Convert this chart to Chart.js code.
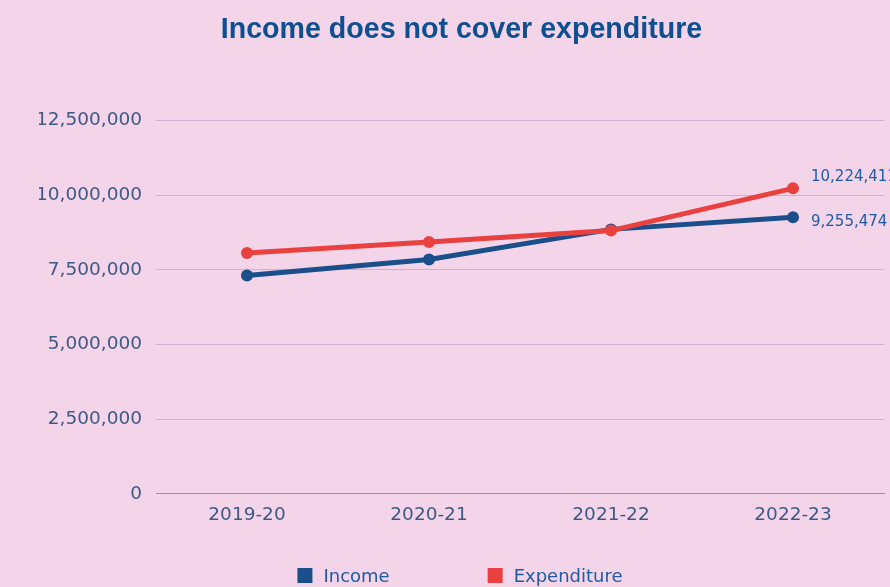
<!DOCTYPE html>
<html>
<head>
<meta charset="utf-8">
<script src="https://cdn.jsdelivr.net/npm/chart.js@4.4.0/dist/chart.umd.min.js"></script>
<style>
    html, body { margin: 0; padding: 0; background: #f3d4e8; overflow: hidden; }
    #caixa { position: relative; width: 920px; height: 600px; }
</style>
</head>
<body>
<div id="caixa"><canvas id="grafico"></canvas></div>
<script>
const anos = ['2019-20', '2020-21', '2021-22', '2022-23'];
const receitas = [7310000, 7840000, 8850000, 9255474];
const despesas = [8060000, 8430000, 8810000, 10224411];
const nomesSeries = ['Income', 'Expenditure'];
const ticksY = [0, 2500000, 5000000, 7500000, 10000000, 12500000];

const AZUL = '#1b4f8b';
const VERMELHO = '#e8413f';
const TEXTO = '#3d5a86';
const FONTE = "'DejaVu Sans', sans-serif";

// rotulos com o valor do ultimo ponto de cada serie
const rotulosFinais = {
    id: 'rotulosFinais',
    afterDatasetsDraw(chart) {
        const ctx = chart.ctx;
        ctx.save();
        ctx.font = `15px ${FONTE}`;
        ctx.fillStyle = '#1f5ca3';
        ctx.textAlign = 'left';
        ctx.textBaseline = 'middle';
        chart.data.datasets.forEach((ds, i) => {
            const meta = chart.getDatasetMeta(i);
            const ultimo = meta.data[meta.data.length - 1];
            const valor = ds.data[ds.data.length - 1];
            const desloc = i === 1 ? -11 : 5;
            ctx.fillText(valor.toLocaleString('en-US'), ultimo.x + 18, ultimo.y + desloc);
        });
        ctx.restore();
    }
};

// legenda propria, espaco largo entre os itens
const legendaPropria = {
    id: 'legendaPropria',
    afterDraw(chart) {
        const ctx = chart.ctx;
        ctx.save();
        ctx.font = `18px ${FONTE}`;
        ctx.textBaseline = 'middle';
        const caixa = 15, folga = 11, entre = 98;
        const larguras = chart.data.datasets.map(ds => caixa + folga + ctx.measureText(ds.label).width);
        const total = larguras.reduce((a, b) => a + b, 0) + entre * (larguras.length - 1);
        let x = chart.width / 2 - total / 2;
        const y = 576;
        chart.data.datasets.forEach((ds, i) => {
            ctx.fillStyle = ds.borderColor;
            ctx.fillRect(x, y - 8, caixa, caixa);
            ctx.fillStyle = '#1f5ca3';
            ctx.fillText(ds.label, x + caixa + folga, y + 1);
            x += larguras[i] + entre;
        });
        ctx.restore();
    }
};

new Chart(document.getElementById('grafico'), {
    type: 'line',
    data: {
        labels: anos,
        datasets: [
            {
                label: nomesSeries[0], data: receitas, order: 2,
                borderColor: AZUL, backgroundColor: AZUL,
                borderWidth: 5, pointRadius: 6, pointBorderWidth: 0, pointHoverRadius: 6, tension: 0
            },
            {
                label: nomesSeries[1], data: despesas, order: 1,
                borderColor: VERMELHO, backgroundColor: VERMELHO,
                borderWidth: 5, pointRadius: 6, pointBorderWidth: 0, pointHoverRadius: 6, tension: 0
            }
        ]
    },
    options: {
        responsive: true,
        maintainAspectRatio: false,
        animation: false,
        layout: { padding: { left: 39, right: 36, top: 0, bottom: 64 } },
        plugins: {
            legend: { display: false },
            tooltip: { enabled: false },
            title: {
                display: true,
                text: 'Income does not cover expenditure',
                color: '#0d4f8f',
                font: { family: "'Liberation Sans', Arial, sans-serif", size: 28.6, weight: 'bold' },
                padding: { top: 13, bottom: 73 }
            }
        },
        scales: {
            x: {
                offset: true,
                grid: { display: false, drawTicks: false },
                border: { display: true, color: '#8a96ad', width: 1 },
                ticks: { color: TEXTO, padding: 10, font: { family: FONTE, size: 18.5 } }
            },
            y: {
                min: ticksY[0],
                max: ticksY[ticksY.length - 1],
                afterBuildTicks: axis => { axis.ticks = ticksY.map(v => ({ value: v })); },
                afterFit: axis => { axis.width = 117; },
                grid: {
                    drawTicks: false,
                    color: ctx => ctx.tick && ctx.tick.value === 0 ? '#8a96ad' : '#c5b6cf',
                    lineWidth: 1
                },
                border: { display: false },
                ticks: {
                    color: TEXTO, padding: 14,
                    font: { family: FONTE, size: 18.5 },
                    callback: v => v.toLocaleString('en-US')
                }
            }
        }
    },
    plugins: [rotulosFinais, legendaPropria]
});
</script>
</body>
</html>
